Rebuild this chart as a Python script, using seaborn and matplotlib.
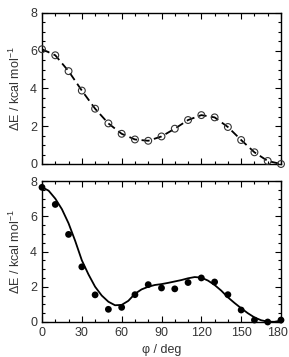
"""Torsional energy profiles: computed scan (top) and fitted curve (bottom)."""

import matplotlib
matplotlib.use("Agg")
import matplotlib.pyplot as plt
from matplotlib.ticker import FixedFormatter, FixedLocator, MultipleLocator
import numpy as np
import pandas as pd
import seaborn as sns

# Top panel: scan points (open circles) joined by dashed line
phi_top = [0, 10, 20, 30, 40, 50, 60, 70, 80, 90, 100, 110, 120, 130, 140, 150, 160, 170, 180]
e_top = [6.08, 5.76, 4.92, 3.89, 2.93, 2.15, 1.60, 1.30, 1.23, 1.46, 1.87, 2.33, 2.59, 2.47,
         1.96, 1.27, 0.62, 0.16, 0.0]

# Bottom panel: data points (filled) and fitted curve (solid)
phi_pts = [0, 10, 20, 30, 40, 50, 60, 70, 80, 90, 100, 110, 120, 130, 140, 150, 160, 170, 180]
e_pts = [7.64, 6.67, 4.97, 3.13, 1.54, 0.72, 0.83, 1.55, 2.12, 1.93, 1.88, 2.24, 2.50, 2.27,
         1.55, 0.68, 0.11, 0.0, 0.11]

phi_fit = [0, 5, 10, 15, 20, 25, 30, 35, 40, 45, 50, 55, 60, 65, 70, 75, 80, 85, 90, 95,
           100, 105, 110, 115, 120, 125, 130, 135, 140, 145, 150, 155, 160, 165, 170, 175, 180]
e_fit = [7.65, 7.45, 7.0, 6.4, 5.6, 4.6, 3.5, 2.7, 2.0, 1.5, 1.15, 0.95, 0.97, 1.2, 1.6, 1.85,
         2.0, 2.1, 2.15, 2.22, 2.3, 2.38, 2.48, 2.55, 2.52, 2.35, 2.1, 1.78, 1.4, 1.08, 0.78,
         0.5, 0.26, 0.1, 0.02, 0.01, 0.08]

x_ticks = [0, 30, 60, 90, 120, 150, 180]
x_ticklabels = ["0", "30", "60", "90", "120", "150", "180"]

YLABEL = "ΔE / kcal mol$^{-1}$"
TEXT_COLOR = "#333333"


def style_axis(ax):
    ax.set_xlim(0, 180)
    ax.set_ylim(0, 8)
    ax.xaxis.set_major_locator(FixedLocator(x_ticks))
    ax.xaxis.set_minor_locator(MultipleLocator(10))
    ax.yaxis.set_major_locator(MultipleLocator(2))
    ax.yaxis.set_minor_locator(MultipleLocator(0.5))
    ax.tick_params(which="both", direction="in", top=True, right=True,
                   colors="black", labelcolor=TEXT_COLOR, labelsize=9, width=0.8)
    ax.tick_params(which="major", length=4)
    ax.tick_params(which="minor", length=2.5)
    for s in ax.spines.values():
        s.set_linewidth(1.0)
        s.set_color("black")
    ax.set_ylabel(YLABEL, fontsize=9, color=TEXT_COLOR, labelpad=5)


def main():
    sns.set_style("ticks")
    plt.rcParams["font.family"] = ["Liberation Sans", "DejaVu Sans"]
    plt.rcParams["mathtext.fontset"] = "custom"
    plt.rcParams["mathtext.rm"] = "Liberation Sans"

    top = pd.DataFrame({"phi": phi_top, "e": e_top})
    pts = pd.DataFrame({"phi": phi_pts, "e": e_pts})
    fit = pd.DataFrame({"phi": phi_fit, "e": e_fit})

    fig = plt.figure(figsize=(2.89, 3.57), dpi=100)
    W, H = 289, 357
    ax1 = fig.add_axes([42 / W, 1 - 164 / H, 239 / W, 151 / H])
    ax2 = fig.add_axes([42 / W, 1 - 322 / H, 239 / W, 141 / H])

    sns.lineplot(data=top, x="phi", y="e", ax=ax1, color="black", linewidth=1.3,
                 linestyle=(0, (4.5, 2.5)), zorder=2)
    sns.scatterplot(data=top, x="phi", y="e", ax=ax1, s=24, marker="o",
                    facecolor="none", edgecolor="#333333", linewidth=0.8, zorder=3,
                    clip_on=False)
    style_axis(ax1)
    ax1.set_xlabel("")
    ax1.tick_params(axis="x", labelbottom=False)

    sns.lineplot(data=fit, x="phi", y="e", ax=ax2, color="black", linewidth=1.3, zorder=2)
    sns.scatterplot(data=pts, x="phi", y="e", ax=ax2, s=24, color="black",
                    edgecolor="none", zorder=3, clip_on=False)
    style_axis(ax2)
    ax2.set_xlabel("φ / deg", fontsize=9, color=TEXT_COLOR, labelpad=4)

    # last label ("180") drawn separately, nudged inward so it stays on the canvas
    ax2.xaxis.set_major_formatter(FixedFormatter(x_ticklabels[:-1] + [""]))
    ax2.annotate(x_ticklabels[-1], xy=(1, 0), xycoords="axes fraction",
                 xytext=(-2.2, -3.5), textcoords="offset points",
                 ha="center", va="top", fontsize=9, color=TEXT_COLOR)

    fig.savefig("out.png", dpi=100)
    plt.close(fig)


if __name__ == "__main__":
    main()
